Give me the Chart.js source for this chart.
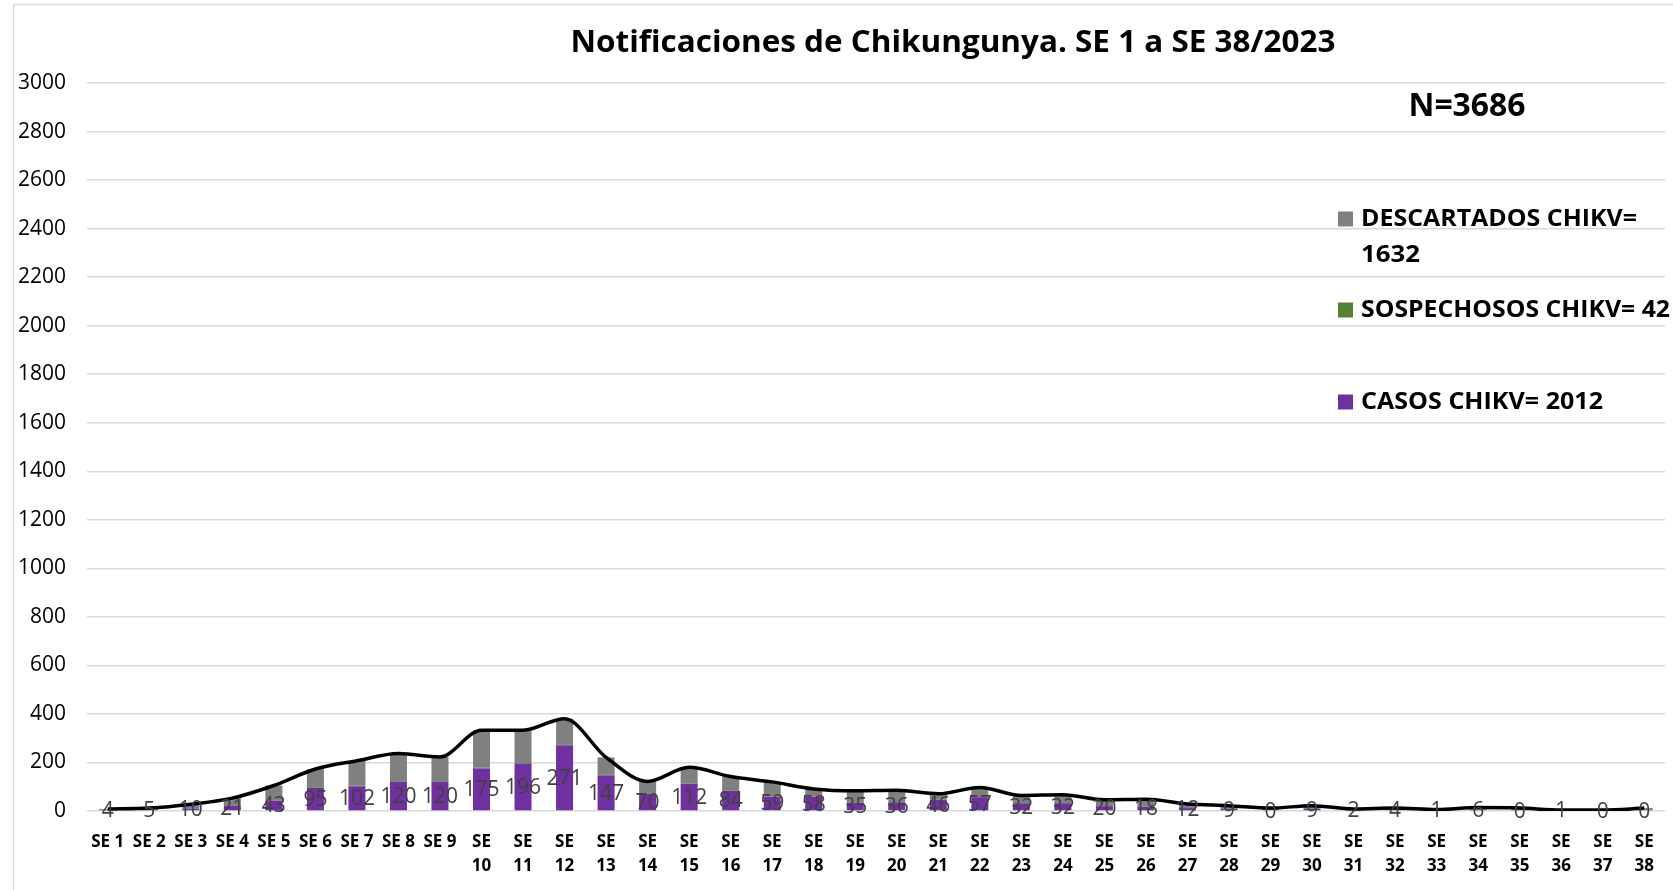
<!DOCTYPE html>
<html><head><meta charset="utf-8">
<script src="https://cdn.jsdelivr.net/npm/chart.js@4.4.0/dist/chart.umd.min.js"></script>
<style>html,body{margin:0;padding:0;background:#fff;overflow:hidden}#wrap{width:1673px;height:890px;position:relative}</style>
</head><body><div id="wrap"><canvas id="c" width="1673" height="890"></canvas></div>
<script>
const titulo = 'Notificaciones de Chikungunya. SE 1 a SE 38/2023';
const totalTexto = 'N=3686';
const semanas = ['SE 1','SE 2','SE 3','SE 4','SE 5','SE 6','SE 7','SE 8','SE 9','SE 10','SE 11','SE 12','SE 13','SE 14','SE 15','SE 16','SE 17','SE 18','SE 19','SE 20','SE 21','SE 22','SE 23','SE 24','SE 25','SE 26','SE 27','SE 28','SE 29','SE 30','SE 31','SE 32','SE 33','SE 34','SE 35','SE 36','SE 37','SE 38'];
const etiquetasEje = [['SE 1'],['SE 2'],['SE 3'],['SE 4'],['SE 5'],['SE 6'],['SE 7'],['SE 8'],['SE 9'],['SE','10'],['SE','11'],['SE','12'],['SE','13'],['SE','14'],['SE','15'],['SE','16'],['SE','17'],['SE','18'],['SE','19'],['SE','20'],['SE','21'],['SE','22'],['SE','23'],['SE','24'],['SE','25'],['SE','26'],['SE','27'],['SE','28'],['SE','29'],['SE','30'],['SE','31'],['SE','32'],['SE','33'],['SE','34'],['SE','35'],['SE','36'],['SE','37'],['SE','38']];
const casos = [4,5,10,21,43,95,102,120,120,175,196,271,147,70,112,84,59,58,35,36,46,57,32,32,20,18,12,9,0,9,2,4,1,6,0,1,0,0];
const sospechosos = [0,0,0,0,1,3,3,3,3,4,5,4,2,2,2,2,1,1,1,1,1,1,1,1,0,0,0,0,0,0,0,0,0,0,0,0,0,0];
const descartados = [4,7,18,32,61,75,102,114,100,154,132,105,72,50,66,56,60,32,47,48,24,39,31,34,26,30,17,13,12,13,6,8,5,8,12,3,4,12];
const totales = [8,12,28,53,105,173,207,237,223,333,333,380,221,122,180,142,120,91,83,85,71,97,64,67,46,48,29,22,12,22,8,12,6,14,12,4,4,12];
const leyenda = [
  {lineas:['DESCARTADOS CHIKV=','1632'], color:'#808080'},
  {lineas:['SOSPECHOSOS CHIKV= 42'], color:'#548235'},
  {lineas:['CASOS CHIKV= 2012'], color:'#7030A0'}
];
const yTicks = {min:0, max:3000, step:200};

function fitText(ctx, text, x, y, font, targetW, align){
  ctx.font = font;
  const w = ctx.measureText(text).width;
  const s = targetW ? targetW / w : 1;
  ctx.save();
  ctx.translate(x, y);
  ctx.scale(s, 1);
  ctx.textAlign = 'left';
  ctx.textBaseline = 'middle';
  ctx.fillText(text, align === 'center' ? -w/2 : 0, 0);
  ctx.restore();
}

const extras = {
  id: 'extras',
  beforeDraw(chart){
    const ctx = chart.ctx;
    ctx.save();
    ctx.fillStyle = '#fff';
    ctx.fillRect(0,0,chart.width,chart.height);
    ctx.strokeStyle = '#d9d9d9';
    ctx.lineWidth = 1.5;
    ctx.strokeRect(13.5, 4.5, 3000, 3000);
    ctx.restore();
  },
  afterDatasetsDraw(chart){
    const ctx = chart.ctx;
    ctx.save();
    const meta = chart.getDatasetMeta(0);
    ctx.fillStyle = '#404040';
    ctx.font = '21px "Open Sans"';
    ctx.textAlign = 'center';
    ctx.textBaseline = 'middle';
    meta.data.forEach((el, i) => {
      const p = el.getProps(['x','y','base'], true);
      ctx.fillText(String(casos[i]), p.x, (p.y + p.base)/2 + 1);
    });
    ctx.fillStyle = '#000';
    fitText(ctx, titulo, 953, 43, 'bold 30px "Open Sans"', 765, 'center');
    fitText(ctx, totalTexto, 1467, 107, 'bold 33px "Open Sans"', 117, 'center');
    const rows = [
      {y:[219,255], w:[276,59]},
      {y:[310], w:[309]},
      {y:[402], w:[242]}
    ];
    leyenda.forEach((item, k) => {
      ctx.fillStyle = item.color;
      ctx.fillRect(1338, rows[k].y[0]-7.5, 15, 15);
      ctx.fillStyle = '#000';
      item.lineas.forEach((t, j) => {
        fitText(ctx, t, 1361, rows[k].y[j], 'bold 23px "Open Sans"', rows[k].w[j], 'left');
      });
    });
    ctx.restore();
  }
};

new Chart(document.getElementById('c'), {
  data: {
    labels: etiquetasEje,
    datasets: [
      {type:'bar', label:'CASOS CHIKV', data:casos, backgroundColor:'#7030A0', stack:'s', order:2, barPercentage:0.41, categoryPercentage:1},
      {type:'bar', label:'SOSPECHOSOS CHIKV', data:sospechosos, backgroundColor:'#548235', stack:'s', order:2, barPercentage:0.41, categoryPercentage:1},
      {type:'bar', label:'DESCARTADOS CHIKV', data:descartados, backgroundColor:'#808080', stack:'s', order:2, barPercentage:0.41, categoryPercentage:1},
      {type:'line', label:'TOTAL', data:totales, borderColor:'#000', borderWidth:3.5, pointRadius:0, cubicInterpolationMode:'monotone', fill:false, stack:'l', order:1}
    ]
  },
  options: {
    responsive:false, animation:false, devicePixelRatio:1,
    layout:{padding:{top:83, right:2, left:0, bottom:0}},
    plugins:{legend:{display:false}, tooltip:{enabled:false}},
    scales:{
      x:{
        stacked:true,
        grid:{display:false, drawTicks:false},
        border:{display:false},
        ticks:{font:{family:'Open Sans', size:17, weight:'bold', lineHeight:1.4}, color:'#000', maxRotation:0, autoSkip:false, padding:19},
        afterFit(s){ s.height = 79; }
      },
      y:{
        stacked:true, min:yTicks.min, max:yTicks.max,
        ticks:{stepSize:yTicks.step, font:{family:'Open Sans', size:21}, color:'#000', padding:21, callback:(v)=>String(v)},
        grid:{color:'#d9d9d9', lineWidth:1.5, drawTicks:false},
        border:{display:false},
        afterFit(s){ s.width = 87; }
      }
    }
  },
  plugins:[extras]
});
</script></body></html>
